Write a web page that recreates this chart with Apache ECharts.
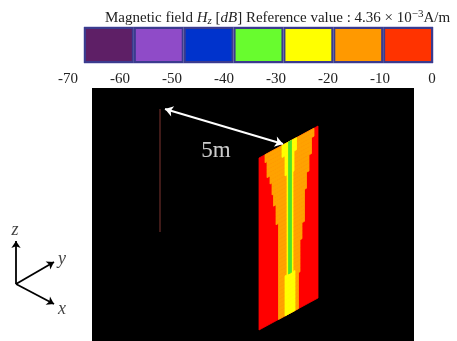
<!DOCTYPE html>
<html>
<head>
<meta charset="utf-8">
<script src="https://cdn.jsdelivr.net/npm/echarts@6/dist/echarts.min.js"></script>
<style>
  html, body { margin: 0; padding: 0; background: #fff; }
  #chart { width: 457px; height: 341px; }
</style>
</head>
<body>
<div id="chart"></div>
<script>
// colour bar
const cbBins = ['-70', '-60', '-50', '-40', '-30', '-20', '-10'];
const cbValues = [1, 1, 1, 1, 1, 1, 1];
const cbColors = ['#5e1f66', '#8f4bc8', '#0033cc', '#68fc2e', '#ffff00', '#ff9900', '#ff3300'];
const cbTickMin = -70;
const cbTickMax = 0;
const cbTickStep = 10;

// plate: 43 rows, band edges in columns (0..59) for each row
const plateCols = 59;
const plateRows = 43;
const leftOrange  = [6,6,8,8,8,8,11,11,13,13,13,14.5,14.5,14.5,17,17,17,17,17,19.5,19.5,19.5,19.5,19.5,19.5,19.5,19.5,19.5,19.5,19.5,19.5,19.5,19.5,19.5,19.5,19.5,19.5,19.5,19.5,19.5,19.5,19.5,19.5];
const leftYellow  = [23,23,23,26,26,26,26,26,28,28,28,28,28,28,28,28,28,28,28,28,28,28,28,28,28,28,28,28,28,28,28,28,28,26,26,26,26,26,26,26,26,26,26];
const rightYellow = [37.5,37.5,37.5,35,35,35,35,35,34,34,34,34,34,34,34,34,34,34,34,34,34,34,34,34,34,34,34,34,34,34,34,34,34,36,36,36,36,36,36,36,36,36,36];
const rightOrange = [55,55,52.5,52.5,52.5,52.5,50,50,50,50,47.5,47.5,47.5,47.5,45.5,45.5,45.5,45.5,45.5,45.5,45.5,45.5,43,43,43,43,41,41,41,41,41,41,41,41,39.5,39.5,39.5,39.5,39.5,39.5,39.5,39.5,39.5];
const greenRows = 33;
const greenCols = [29.5, 32.5];
const plateColors = ['#ff0000', '#ffa200', '#ffff00', '#4fe02c'];

// scene annotations (page pixel space)
const poleLine = [[160, 109], [160, 232]];
const distArrow = [[165, 109], [283, 144]];
const triadOrigin = [16, 284];
const triadTips = [[16, 241], [54, 262], [54, 304]];
const triadLabels = [[15, 230, 'z'], [62, 259, 'y'], [62, 309, 'x']];
const distLabel = [[216, 151, '5m']];

const plateData = [];
plateData.push([0, plateRows, 0, plateCols, 0]);
for (let r = 0; r < plateRows; r++) plateData.push([r, r + 1, leftOrange[r], rightOrange[r], 1]);
for (let r = 0; r < plateRows; r++) plateData.push([r, r + 1, leftYellow[r], rightYellow[r], 2]);
plateData.push([0, greenRows, greenCols[0], greenCols[1], 3]);

const rowH = 4;
const shear = 32 / plateCols;

const chart = echarts.init(document.getElementById('chart'));
const serif = 'Liberation Serif';
const hidden = { show: false, splitLine: { show: false } };
const txt = { fontFamily: serif, fontWeight: 'normal', color: '#222', lineHeight: 18 };

chart.setOption({
  animation: false,
  title: {
    left: 100, top: 4,
    text: '{a|Magnetic field }{i|H}{s|z}{a| [}{i|dB}{a|] Reference value : 4.36 × 10}{p|−3}{a|A/m}',
    textStyle: {
      fontWeight: 'normal',
      rich: {
        a: Object.assign({ fontSize: 15 }, txt),
        i: Object.assign({ fontSize: 15, fontStyle: 'italic' }, txt),
        s: Object.assign({ fontSize: 11, fontStyle: 'italic', verticalAlign: 'bottom' }, txt),
        p: Object.assign({ fontSize: 11, verticalAlign: 'top' }, txt)
      }
    }
  },
  grid: [
    { left: 0, top: 0, width: 457, height: 341 },
    { left: 92, top: 88, width: 322, height: 253, show: true, backgroundColor: '#000', borderWidth: 0 },
    { left: 84, top: 27, width: 349, height: 36, show: true, borderColor: '#a3a6d6', borderWidth: 1 },
    { left: 68, top: 64, width: 364, height: 1 },
    { left: 259, top: 126, width: plateCols, height: plateRows * rowH + 32 }
  ],
  xAxis: [
    Object.assign({ gridIndex: 0, type: 'value', min: 0, max: 457 }, hidden),
    Object.assign({ gridIndex: 1, type: 'value', min: 0, max: 1 }, hidden),
    Object.assign({ gridIndex: 2, type: 'category', data: cbBins }, hidden),
    {
      gridIndex: 3, type: 'value', min: cbTickMin, max: cbTickMax, interval: cbTickStep,
      axisLine: { show: false }, axisTick: { show: false }, splitLine: { show: false },
      axisLabel: { margin: 7, fontFamily: serif, fontSize: 15, color: '#222', showMinLabel: true, showMaxLabel: true }
    },
    Object.assign({ gridIndex: 4, type: 'value', min: 0, max: plateCols }, hidden)
  ],
  yAxis: [
    Object.assign({ gridIndex: 0, type: 'value', min: 0, max: 341, inverse: true }, hidden),
    Object.assign({ gridIndex: 1, type: 'value', min: 0, max: 1 }, hidden),
    Object.assign({ gridIndex: 2, type: 'value', min: 0, max: 1 }, hidden),
    Object.assign({ gridIndex: 3, type: 'value', min: 0, max: 1 }, hidden),
    Object.assign({ gridIndex: 4, type: 'value', min: -32, max: plateRows * rowH, inverse: true }, hidden)
  ],
  series: [
    {
      type: 'bar', xAxisIndex: 2, yAxisIndex: 2, barCategoryGap: '0%',
      data: cbValues.map((v, i) => ({ value: v, itemStyle: { color: cbColors[i] } })),
      itemStyle: { borderColor: '#3b3b8e', borderWidth: 2 }
    },
    {
      type: 'custom', xAxisIndex: 4, yAxisIndex: 4, data: plateData,
      renderItem: function (params, api) {
        const r0 = api.value(0) * rowH, r1 = api.value(1) * rowH;
        const c0 = api.value(2), c1 = api.value(3);
        const col = plateColors[api.value(4)];
        const p = (c, v) => api.coord([c, v - shear * c]);
        return {
          type: 'polygon',
          shape: { points: [p(c0, r0), p(c1, r0), p(c1, r1), p(c0, r1)] },
          style: { fill: col, stroke: col, lineWidth: 0.8 }
        };
      }
    },
    {
      type: 'lines', coordinateSystem: 'cartesian2d', xAxisIndex: 0, yAxisIndex: 0,
      symbol: 'none',
      lineStyle: { color: '#552320', width: 1.5, opacity: 1 },
      data: [{ coords: poleLine }]
    },
    {
      type: 'lines', coordinateSystem: 'cartesian2d', xAxisIndex: 0, yAxisIndex: 0,
      symbol: ['arrow', 'arrow'], symbolSize: 8,
      lineStyle: { color: '#fff', width: 2, opacity: 1 },
      data: [{ coords: distArrow }]
    },
    {
      type: 'lines', coordinateSystem: 'cartesian2d', xAxisIndex: 0, yAxisIndex: 0,
      symbol: ['none', 'arrow'], symbolSize: 7,
      lineStyle: { color: '#000', width: 1.8, opacity: 1 },
      data: triadTips.map(t => ({ coords: [triadOrigin, t] }))
    },
    {
      type: 'scatter', xAxisIndex: 0, yAxisIndex: 0, symbolSize: 1,
      itemStyle: { color: 'rgba(0,0,0,0)' },
      label: { show: true, position: 'inside', formatter: p => p.value[2], fontFamily: serif, fontSize: 23, color: '#fff' },
      data: distLabel
    },
    {
      type: 'scatter', xAxisIndex: 0, yAxisIndex: 0, symbolSize: 1,
      itemStyle: { color: 'rgba(0,0,0,0)' },
      label: { show: true, position: 'inside', formatter: p => p.value[2], fontFamily: serif, fontStyle: 'italic', fontSize: 18, color: '#111' },
      data: triadLabels
    }
  ]
});
</script>
</body>
</html>
